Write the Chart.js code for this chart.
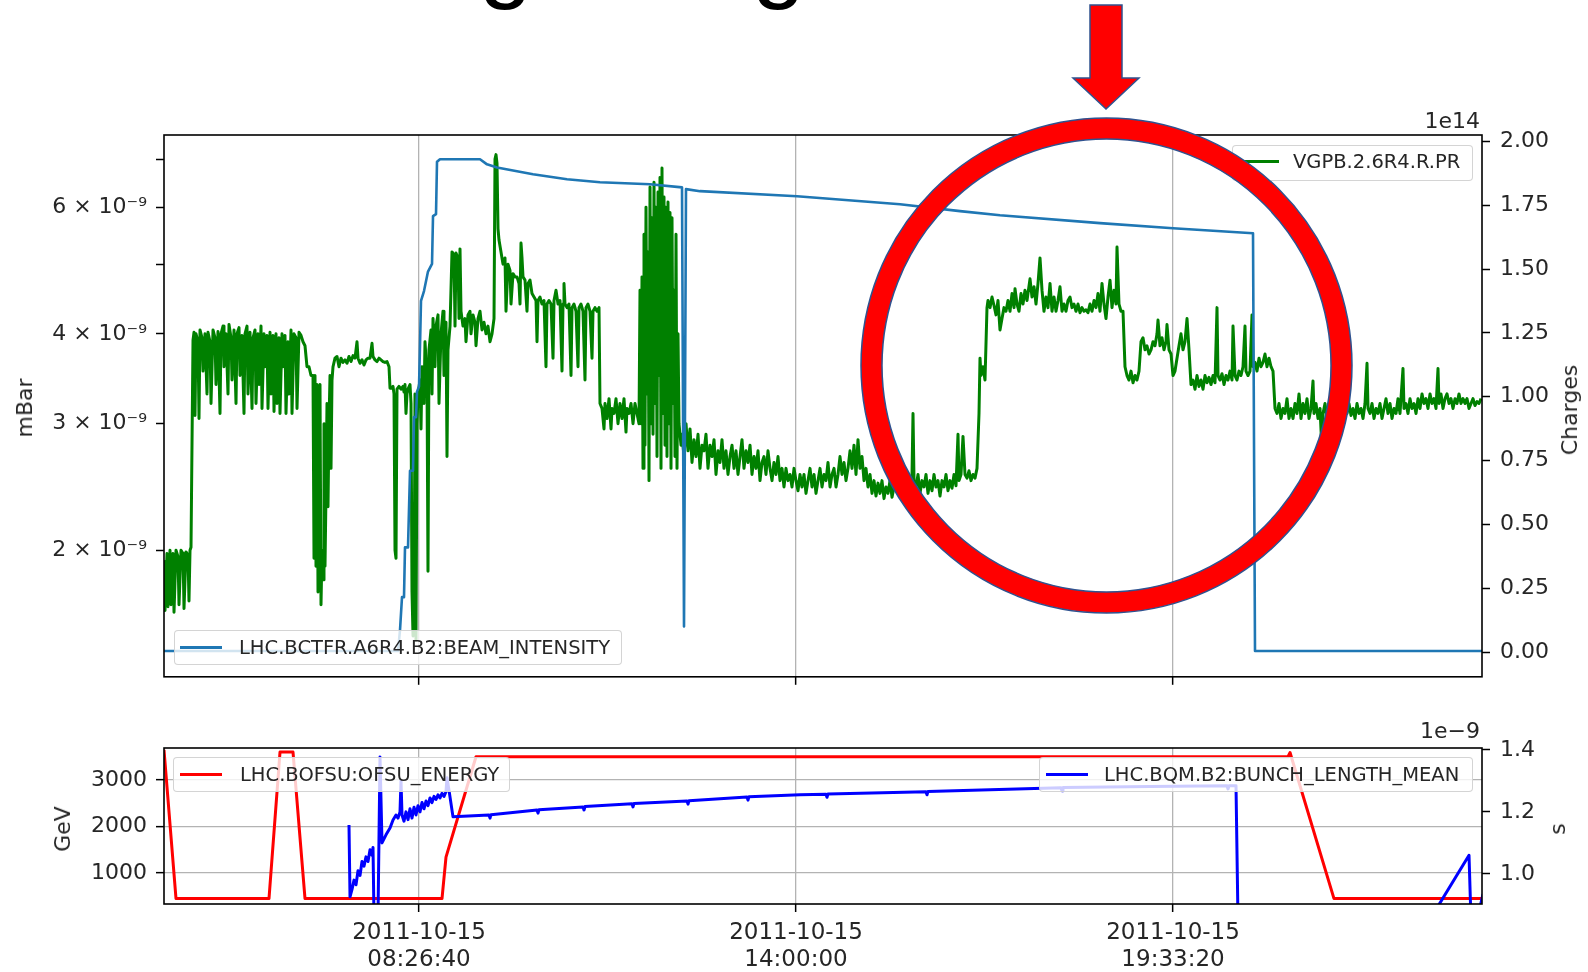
<!DOCTYPE html>
<html><head><meta charset="utf-8">
<script src="https://cdn.jsdelivr.net/npm/chart.js@4.4.1/dist/chart.umd.min.js"></script>
<style>
html,body{margin:0;padding:0;background:#fff;}
body{width:1588px;height:972px;overflow:hidden;position:relative;font-family:'DejaVu Sans',sans-serif;}
canvas{position:absolute;left:0;z-index:0;}
.lbl{position:absolute;color:#262626;font-size:22px;line-height:1;white-space:nowrap;z-index:1;}
.rot{transform:translate(-50%,-50%) rotate(-90deg);}
.leg{position:absolute;background:rgba(255,255,255,0.8);border:1px solid rgba(204,204,204,0.85);border-radius:4px;box-sizing:border-box;z-index:1;}
.ln{position:absolute;height:3px;z-index:2;}
.tx{position:absolute;font-size:19.5px;line-height:1;color:#262626;white-space:nowrap;z-index:2;}
.big{position:absolute;font-family:'Liberation Sans',sans-serif;font-size:96px;line-height:96px;color:#000;z-index:1;}
</style></head><body>
<script>
// ---------- DATA ----------
// time axis: seconds since 2011-10-15 00:00:00
const xMin = 16872, xMax = 86792;
const xTickValues = [30400, 50400, 70400];
const xTickLabels = [['2011-10-15','08:26:40'], ['2011-10-15','14:00:00'], ['2011-10-15','19:33:20']];

// VGPB.2.6R4.R.PR pressure (units of 1e-9 mBar)
const greenTime = [
16872,16925,17031,17084,17191,17244,17350,17403,17509,17615,17668,17774,17880,17933,18039,18145,18198,18252,18305,18411,
18464,18517,18570,18676,18729,18782,18888,18941,19047,19153,
19206,19313,19366,19472,19578,19631,19737,19843,19896,20002,
20055,20161,20267,20320,20427,20480,20586,20692,20745,20851,
20904,21010,21116,21169,21275,21328,21435,21541,21594,21700,
21753,21859,21912,22018,22071,22177,22230,22336,22389,22496,
22549,22655,22708,22814,22867,22973,23026,23132,23185,23291,
23344,23450,23503,23610,23663,23769,23875,23928,24034,24140,
24246,24352,24458,24564,24671,24777,
24830,24883,24936,24989,25042,25095,25148,25201,25254,25307,25360,25413,25466,25519,25572,25625,25679,25732,25785,25838,25944,
26050,26156,26262,26368,26474,26580,26686,26793,26899,27005,27111,27164,27270,27376,27482,27588,27694,27801,27907,27960,28066,28172,28278,28384,28490,28596,28702,28809,28862,
28915,29021,29074,29127,29180,29233,29339,29445,29551,29604,
29657,29710,29763,29816,29923,29976,30029,30082,30135,30188,
30241,30294,30347,30453,30506,30559,30665,30718,30824,30877,
30930,31037,31090,31143,31249,31302,31408,31461,31567,31673,
31726,31832,31885,31938,32045,
32151,32257,32310,32363,32469,32522,32575,32628,32734,32840,
32893,32999,33106,33159,33265,33371,33424,33530,33636,33742,
33848,33954,34060,34167,34273,34379,
34432,34485,34538,34591,34644,34750,34856,34962,35015,35121,
35228,35281,35387,35493,35599,35705,35758,35811,35864,35917,
36023,36129,36182,36289,36395,36501,36607,36660,36713,36819,
36925,37031,37137,37190,37296,37403,37509,37562,37668,37774,
37880,37986,38039,38092,38145,38251,38357,38464,38517,38623,
38729,38835,38888,38994,39100,39206,39259,39365,39472,39578,
39631,39737,39843,39949,
40002,40108,40214,40267,40373,40480,40586,40639,40745,40851,
40957,41063,41169,41275,41381,41434,41541,41647,41753,41859,
41965,42071,
42124,42177,42230,42283,42336,42389,42442,42495,42548,42602,
42655,42708,42761,42814,42867,42920,42973,43026,43079,43132,
43185,43238,43291,43344,43397,43450,43503,43556,43609,43663,
43716,43769,43822,43875,43928,43981,44034,44087,44140,44193,
44299,
44352,44458,44564,44671,44777,44883,44989,45095,45201,45307,
45413,45519,45625,45731,45838,45944,46050,46156,46262,46368,
46474,46580,46686,46792,46899,47005,47111,47217,47323,47429,
47535,47641,47747,47853,47960,48066,48172,48278,48384,48490,
48596,48702,48808,48914,49021,49127,49233,49339,49445,49551,
49657,49763,49869,49975,50082,50188,50294,50400,50506,50612,
50718,50824,50930,51036,51143,51249,51355,51461,51567,51673,
51779,51885,51991,52097,52204,52310,52416,52522,52628,52734,
52840,52946,53052,53158,53265,53371,53477,53583,53689,53795,
53901,54007,54113,54219,54326,54432,54538,54644,54750,54856,
54962,55068,55174,55280,55387,55493,55599,55705,55811,55917,
56023,56129,56235,56341,56448,56554,
56607,56660,56766,56872,56978,57084,57190,57296,57402,57509,
57615,57721,57827,57933,58039,58145,58251,58357,58463,58570,
58676,58782,58888,58994,59047,59153,59259,59365,59471,59577,
59684,59790,59896,60002,60108,60161,60214,60320,60426,60532,
60585,60692,60798,60904,61010,61116,61222,61328,61434,61540,
61646,61753,61859,61965,62018,62124,62230,62336,62442,62548,
62654,62814,62920,63026,63132,63238,63344,63450,63556,63662,
63768,63875,63981,64087,64193,64299,64405,64511,64617,64723,
64829,64936,65042,65148,65254,65360,65466,65572,65678,65784,
65890,65997,66103,66209,66315,66421,66527,66633,66739,66845,
66951,67058,67164,67270,67376,67429,67535,67641,67747,67853,
67959,68065,68172,68278,68384,68490,68596,68702,68808,68914,
69020,69126,69233,69339,69445,69551,69604,69710,69816,69922,
70028,70081,70188,70294,70400,70506,70612,70718,70824,70930,
71036,71143,71249,71355,
71461,71567,71673,71779,71885,71991,72098,72204,72310,72416,
72522,72628,72734,72787,72893,72999,73105,73211,73317,73424,
73530,73583,73689,73795,73901,74007,74113,74219,74272,74378,
74485,74591,74644,74750,74856,74962,75068,75174,75280,75386,
75492,75599,75705,75811,
75917,76023,76129,76235,76341,76447,76554,76660,76766,76872,
76978,77084,77190,77296,77402,77508,77615,77721,77827,77880,
77986,78092,78198,78304,78357,78463,78570,78676,78782,78888,
78994,79100,79206,79312,79418,79525,79631,79737,79843,79949,
80055,80161,80267,80373,80479,80586,80692,80745,80851,80957,
81063,81169,81275,81381,81487,81593,81699,81805,81912,82018,
82124,82230,82336,82442,82601,82654,82760,82866,82973,83079,
83185,83291,83397,83503,83609,83715,83821,83927,84034,84140,
84246,84352,84458,84511,84617,84723,84829,84935,85042,85148,
85254,85360,85466,85572,85678,85784,85890,85996,86103,86209,
86315,86421,86527,86633,86739
];
const pressureE9 = [
1.93,1.65,1.98,1.67,2.0,1.68,1.98,1.64,2.0,1.96,1.68,2.0,1.98,1.66,1.99,1.97,1.70,2.0,2.02,3.92,
4.02,3.08,4.0,3.9,3.05,4.05,3.95,3.55,4.0,3.3,
4.02,3.9,3.2,4.05,3.95,3.4,4.03,3.1,4.0,4.1,
3.6,4.0,3.3,4.12,3.95,3.45,4.05,3.2,4.0,4.08,
3.5,3.98,3.1,4.0,4.1,3.3,4.02,3.15,3.95,4.05,
3.2,4.0,3.4,4.1,3.15,4.0,3.6,3.98,3.15,4.02,
3.3,3.98,3.12,4.0,3.2,3.95,3.1,4.0,3.6,3.98,
3.1,3.9,3.3,4.05,3.1,4.0,3.95,3.15,4.02,3.98,
3.9,3.85,3.6,3.6,3.5,3.5,
1.95,3.5,1.9,3.4,1.75,2.1,3.4,1.68,2.0,1.82,3.0,1.9,2.4,3.2,2.3,3.0,3.5,2.6,3.45,3.6,3.7,
3.72,3.6,3.7,3.65,3.68,3.64,3.72,3.66,3.73,3.7,3.9,3.7,3.64,3.68,3.62,3.68,3.7,3.7,3.88,3.72,3.68,3.66,3.7,3.68,3.66,3.65,3.66,3.6,3.36,
3.36,3.38,3.3,2.0,1.95,3.35,3.38,3.35,3.38,3.32,
3.4,3.1,3.3,3.35,3.4,3.2,1.75,1.52,1.55,3.3,
1.5,3.0,3.3,3.45,2.95,3.6,3.2,3.9,3.5,1.87,
3.8,4.05,3.3,4.2,3.6,4.1,4.25,3.2,4.0,4.3,
3.5,4.15,2.7,3.8,4.1,
5.2,5.15,4.1,5.18,5.1,4.2,5.25,4.3,4.1,4.2,
3.9,4.25,4.3,4.0,4.25,4.15,3.85,4.2,4.3,4.05,
4.15,4.0,4.1,3.9,4.0,4.2,
7.0,7.1,6.9,5.6,5.4,5.2,5.0,5.1,4.3,5.0,
4.9,4.4,4.85,4.8,4.8,4.7,4.4,5.35,5.1,4.8,
4.75,4.3,4.7,4.75,4.55,4.5,4.45,3.9,4.45,4.5,
4.4,4.45,3.6,4.4,4.45,4.4,3.7,4.45,4.6,4.4,
4.45,3.55,4.4,4.7,4.4,4.35,4.4,3.5,4.35,4.4,
4.3,3.6,4.35,4.4,4.3,3.45,4.35,4.4,4.3,3.7,
4.3,4.35,4.3,4.35,
3.2,3.15,2.95,3.2,3.05,3.25,2.95,3.15,3.1,3.25,
3.0,3.2,3.05,3.25,2.92,3.15,3.1,3.2,3.0,3.2,
3.1,3.0,
4.6,3.0,4.8,2.6,5.5,2.8,6.0,3.3,5.2,2.5,
6.4,3.0,5.8,2.9,6.5,3.2,6.0,2.7,6.3,3.5,
6.6,2.6,6.8,3.1,6.2,2.8,6.0,2.7,6.1,3.0,
5.9,2.6,5.8,3.2,4.6,2.7,5.5,2.6,4.0,3.0,
2.8,
2.9,2.7,3.0,2.75,2.95,2.65,2.85,2.7,2.9,2.6,
2.8,2.75,2.9,2.6,2.8,2.7,2.85,2.55,2.75,2.65,
2.85,2.6,2.75,2.55,2.7,2.8,2.6,2.75,2.55,2.7,
2.85,2.6,2.75,2.65,2.8,2.55,2.7,2.6,2.75,2.5,
2.65,2.7,2.55,2.75,2.6,2.5,2.65,2.55,2.7,2.5,
2.6,2.45,2.6,2.5,2.55,2.45,2.6,2.5,2.42,2.55,
2.45,2.55,2.4,2.5,2.6,2.45,2.55,2.4,2.5,2.6,
2.45,2.55,2.5,2.65,2.45,2.55,2.6,2.45,2.55,2.7,
2.55,2.65,2.5,2.6,2.75,2.6,2.8,2.55,2.85,2.6,
2.7,2.5,2.6,2.45,2.55,2.4,2.5,2.38,2.48,2.4,
2.5,2.36,2.45,2.4,2.5,2.37,2.45,2.5,2.4,2.55,
2.45,2.5,2.4,2.5,2.45,2.55,
3.1,2.5,2.45,2.55,2.4,2.5,2.45,2.55,2.4,2.5,
2.42,2.55,2.45,2.5,2.38,2.5,2.45,2.55,2.42,2.5,
2.44,2.55,2.46,2.9,2.5,2.55,2.88,2.55,2.52,2.58,
2.5,2.55,2.52,2.6,3.1,3.7,3.5,3.6,3.45,4.35,
4.45,4.35,4.5,4.38,4.25,4.45,4.05,4.2,4.35,4.3,
4.45,4.3,4.55,4.35,4.62,4.4,4.3,4.55,4.4,4.6,
4.45,4.77,4.5,4.65,4.4,4.7,5.1,4.6,4.3,4.5,
4.35,4.7,4.3,4.5,4.3,4.45,4.65,4.3,4.4,4.3,
4.45,4.5,4.35,4.4,4.3,4.4,4.28,4.35,4.3,4.32,
4.28,4.4,4.3,4.45,4.35,4.55,4.3,4.7,4.4,4.2,
4.5,4.75,4.35,4.6,4.4,5.28,4.4,4.3,4.3,3.6,
3.5,3.45,3.55,3.42,3.5,3.45,3.55,3.9,3.95,3.8,
3.85,3.75,3.8,3.9,3.85,4.0,4.18,3.85,3.95,3.8,
3.9,4.12,3.8,3.75,3.5,3.55,3.7,3.85,4.0,3.8,
3.9,4.2,3.8,3.4,
3.45,3.35,3.5,3.38,3.45,3.35,3.5,3.42,3.48,3.4,
3.5,3.42,4.35,3.5,3.45,3.52,3.4,3.5,3.45,3.55,
3.45,4.1,3.5,3.45,3.55,3.5,3.6,4.1,3.55,3.5,
3.55,4.25,3.6,3.65,3.55,3.7,3.6,3.65,3.75,3.6,
3.7,3.6,3.55,3.15,
3.1,3.2,3.05,3.15,3.1,3.25,3.05,3.15,3.05,3.2,
3.1,3.3,3.05,3.2,3.1,3.25,3.05,3.15,3.44,3.1,
3.2,3.05,3.15,2.75,3.1,3.2,3.05,3.15,3.1,3.25,
3.05,3.15,3.1,3.2,3.05,3.15,3.1,3.2,3.08,3.15,
3.05,3.2,3.1,3.15,3.05,3.2,3.64,3.15,3.1,3.2,
3.05,3.15,3.1,3.2,3.05,3.15,3.25,3.1,3.2,3.05,
3.15,3.1,3.25,3.1,3.58,3.15,3.2,3.1,3.25,3.15,
3.2,3.1,3.25,3.15,3.3,3.2,3.25,3.15,3.3,3.2,
3.25,3.15,3.58,3.2,3.3,3.15,3.25,3.3,3.2,3.25,
3.15,3.25,3.2,3.3,3.2,3.25,3.2,3.25,3.15,3.2,
3.25,3.18,3.22,3.2,3.25
];

// LHC.BCTFR.A6R4.B2:BEAM_INTENSITY (units of 1e14 charges)
const intensityTime = [16872,29286,29392,29498,29604,29657,29816,29923,30082,30135,30241,30294,30400,30453,30506,30665,30877,31090,31143,31302,31355,31514,33636,34007,34538,36448,38251,40002,42655,44352,44458,44564,45307,50453,55917,59100,61222,66527,70400,74644,74750,86792];
const intensityE14 = [0.004,0.004,0.086,0.215,0.215,0.41,0.41,0.71,0.71,0.92,0.92,1.02,1.04,1.2,1.375,1.414,1.49,1.52,1.707,1.715,1.92,1.93,1.93,1.91,1.898,1.871,1.852,1.84,1.832,1.82,0.10,1.813,1.805,1.785,1.754,1.727,1.711,1.68,1.66,1.64,0.004,0.004];

// LHC.BOFSU:OFSU_ENERGY (GeV)
const energyTime = [16872,17509,22442,23026,23716,24352,31620,31832,33424,76501,76607,78940,86792];
const energyGeV = [3650,450,450,3600,3600,450,450,1340,3500,3500,3590,450,450];

// LHC.BQM.B2:BUNCH_LENGTH_MEAN (units of 1e-9 s)
const bunchTime = [26686,26740,26846,26952,27058,27164,27270,27376,27482,27588,
27694,27801,27907,27960,28013,28225,28331,28437,28649,28862,
29021,29180,29286,29392,29445,29498,29604,29710,29816,29923,
30029,30135,30241,30347,30453,30559,30665,30771,30877,30984,
31090,31196,31302,31408,31514,31620,31726,31832,31885,31991,
32204,34113,34167,34220,36660,36713,36766,39100,39153,39206,
41700,41753,41806,44618,44671,44724,47800,47853,47906,50612,
51991,52044,52097,57296,57349,57402,64458,64511,64564,69180,
73265,73318,73371,73742,73848,84299,86103,86209,86527,86845];
const bunchNs = [1.158,0.926,0.95,0.98,0.965,1.01,0.995,1.04,1.025,1.055,
1.04,1.078,1.06,1.085,0.86,0.86,1.377,1.10,1.126,1.148,
1.174,1.19,1.18,1.20,1.30,1.19,1.17,1.20,1.175,1.21,
1.18,1.215,1.19,1.22,1.2,1.23,1.21,1.235,1.22,1.245,
1.23,1.25,1.24,1.255,1.245,1.26,1.25,1.265,1.31,1.27,
1.184,1.19,1.18,1.191,1.206,1.196,1.207,1.216,1.206,1.217,
1.226,1.216,1.227,1.235,1.225,1.236,1.248,1.238,1.249,1.255,
1.257,1.247,1.258,1.265,1.255,1.266,1.278,1.268,1.279,1.282,
1.284,1.274,1.284,1.284,0.85,0.88,1.06,0.85,0.85,0.935];

// tick values & labels
const pressureTicks = [2e-9,3e-9,4e-9,5e-9,6e-9,7e-9];
const pressureTickLabels = ['2 × 10⁻⁹','3 × 10⁻⁹','4 × 10⁻⁹','','6 × 10⁻⁹',''];
const intensityTicks = [0,0.25e14,0.5e14,0.75e14,1e14,1.25e14,1.5e14,1.75e14,2e14];
const intensityTickLabels = ['0.00','0.25','0.50','0.75','1.00','1.25','1.50','1.75','2.00'];
const energyTicks = [1000,2000,3000];
const energyTickLabels = ['1000','2000','3000'];
const bunchTicks = [1.0e-9,1.2e-9,1.4e-9];
const bunchTickLabels = ['1.0','1.2','1.4'];
</script>

<div class="big" style="left:479px;top:-91px;">g</div>
<div class="big" style="left:752px;top:-91px;">g</div>

<canvas id="cTop" width="1588" height="700" style="top:0;width:1588px;height:700px;"></canvas>
<canvas id="cBot" width="1588" height="272" style="top:700px;width:1588px;height:272px;"></canvas>

<div class="lbl rot" style="left:25px;top:408px;">mBar</div>
<div class="lbl rot" style="left:1570px;top:410px;">Charges</div>
<div class="lbl rot" style="left:63px;top:829px;">GeV</div>
<div class="lbl rot" style="left:1558px;top:829px;">s</div>
<div class="lbl" style="right:108px;top:110px;">1e14</div>
<div class="lbl" style="right:108px;top:720px;">1e−9</div>

<div class="leg" style="left:174px;top:630px;width:448px;height:35px;"></div>
<div class="ln" style="left:180px;top:646px;width:42px;background:#1f77b4;"></div>
<div class="tx" style="left:239px;top:638px;">LHC.BCTFR.A6R4.B2:BEAM_INTENSITY</div>

<div class="leg" style="left:1232px;top:145px;width:241px;height:36px;"></div>
<div class="ln" style="left:1242px;top:160px;width:37px;background:#008000;"></div>
<div class="tx" style="left:1293px;top:152px;">VGPB.2.6R4.R.PR</div>

<div class="leg" style="left:173px;top:757px;width:337px;height:35px;"></div>
<div class="ln" style="left:180px;top:773px;width:42px;background:#ff0000;"></div>
<div class="tx" style="left:240px;top:765px;">LHC.BOFSU:OFSU_ENERGY</div>

<div class="leg" style="left:1039px;top:757px;width:434px;height:35px;"></div>
<div class="ln" style="left:1046px;top:773px;width:42px;background:#0000ff;"></div>
<div class="tx" style="left:1104px;top:765px;">LHC.BQM.B2:BUNCH_LENGTH_MEAN</div>

<svg width="1588" height="972" style="position:absolute;left:0;top:0;z-index:5;" xmlns="http://www.w3.org/2000/svg">
  <ellipse cx="1106.5" cy="365.5" rx="235" ry="237" fill="none" stroke="#ff0000" stroke-width="21"/>
  <ellipse cx="1106.5" cy="365.5" rx="245.5" ry="247.5" fill="none" stroke="#2f528f" stroke-width="1.5"/>
  <ellipse cx="1106.5" cy="365.5" rx="224.5" ry="226.5" fill="none" stroke="#2f528f" stroke-width="1.5"/>
  <polygon points="1090,5 1122,5 1122,78 1139,78 1106,109 1073,78 1090,78" fill="#ff0000" stroke="#2f528f" stroke-width="1.5"/>
</svg>

<script>
Chart.defaults.font.family = "'DejaVu Sans', sans-serif";
Chart.defaults.color = '#262626';

const toPts = (t, v, k) => t.map((x, i) => ({x: x, y: v[i] * k}));
const fixedTicks = vals => scale => { scale.ticks = vals.map(v => ({value: v})); };
const framePlugin = {
  id: 'frame',
  afterDraw(chart) {
    const {ctx, chartArea: a} = chart;
    ctx.save();
    ctx.strokeStyle = '#000';
    ctx.lineWidth = 1.6;
    ctx.strokeRect(a.left, a.top, a.right - a.left, a.bottom - a.top);
    ctx.restore();
  }
};
const tickGrid = {drawOnChartArea: false, tickColor: '#000', tickLength: 8, tickWidth: 1.5};
const xGrid = {color: '#b3b3b3', lineWidth: 1.3, tickColor: '#000', tickLength: 8, tickWidth: 1.5};
const lineDs = {pointRadius: 0, tension: 0, borderJoinStyle: 'round', fill: false};
const common = {
  responsive: false, animation: false, devicePixelRatio: 1,
  parsing: false, normalized: true, events: [],
  plugins: {legend: {display: false}, tooltip: {enabled: false}, title: {display: false}}
};

new Chart(document.getElementById('cTop'), {
  type: 'line',
  data: {datasets: [
    Object.assign({label: 'LHC.BCTFR.A6R4.B2:BEAM_INTENSITY', data: toPts(intensityTime, intensityE14, 1e14),
      yAxisID: 'yI', borderColor: '#1f77b4', borderWidth: 2.6}, lineDs),
    Object.assign({label: 'VGPB.2.6R4.R.PR', data: toPts(greenTime, pressureE9, 1e-9),
      yAxisID: 'yP', borderColor: '#008000', borderWidth: 3}, lineDs)
  ]},
  options: Object.assign({}, common, {
    layout: {autoPadding: false, padding: {top: 135, left: 0, right: 0, bottom: 0}},
    scales: {
      x: {type: 'linear', position: 'bottom', min: xMin, max: xMax,
        afterBuildTicks: fixedTicks(xTickValues), ticks: {display: false},
        grid: xGrid, border: {display: false}, afterFit: s => { s.height = 23; }},
      yP: {type: 'logarithmic', position: 'left', min: 1.334e-9, max: 7.56e-9,
        afterBuildTicks: fixedTicks(pressureTicks),
        ticks: {autoSkip: false, font: {size: 22}, padding: 9, callback: (v, i) => pressureTickLabels[i]},
        grid: tickGrid, border: {display: false}, afterFit: s => { s.width = 164; }},
      yI: {type: 'linear', position: 'right', min: -0.097e14, max: 2.025e14,
        afterBuildTicks: fixedTicks(intensityTicks),
        ticks: {autoSkip: false, font: {size: 22}, padding: 10, callback: (v, i) => intensityTickLabels[i]},
        grid: tickGrid, border: {display: false}, afterFit: s => { s.width = 106; }}
    }
  }),
  plugins: [framePlugin]
});

new Chart(document.getElementById('cBot'), {
  type: 'line',
  data: {datasets: [
    Object.assign({label: 'LHC.BQM.B2:BUNCH_LENGTH_MEAN', data: toPts(bunchTime, bunchNs, 1e-9),
      yAxisID: 'yS', borderColor: '#0000ff', borderWidth: 3}, lineDs),
    Object.assign({label: 'LHC.BOFSU:OFSU_ENERGY', data: toPts(energyTime, energyGeV, 1),
      yAxisID: 'yE', borderColor: '#ff0000', borderWidth: 3}, lineDs)
  ]},
  options: Object.assign({}, common, {
    layout: {autoPadding: false, padding: {top: 48, left: 0, right: 0, bottom: 0}},
    scales: {
      x: {type: 'linear', position: 'bottom', min: xMin, max: xMax,
        afterBuildTicks: fixedTicks(xTickValues),
        ticks: {autoSkip: false, maxRotation: 0, font: {size: 23, lineHeight: 1.2}, padding: 7,
          callback: (v, i) => xTickLabels[i]},
        grid: xGrid, border: {display: false}, afterFit: s => { s.height = 68; }},
      yE: {type: 'linear', position: 'left', min: 333, max: 3688,
        afterBuildTicks: fixedTicks(energyTicks),
        ticks: {autoSkip: false, font: {size: 22}, padding: 9, callback: (v, i) => energyTickLabels[i]},
        grid: xGrid, border: {display: false}, afterFit: s => { s.width = 164; }},
      yS: {type: 'linear', position: 'right', min: 0.903e-9, max: 1.406e-9,
        afterBuildTicks: fixedTicks(bunchTicks),
        ticks: {autoSkip: false, font: {size: 22}, padding: 10, callback: (v, i) => bunchTickLabels[i]},
        grid: tickGrid, border: {display: false}, afterFit: s => { s.width = 106; }}
    }
  }),
  plugins: [framePlugin]
});
</script>
</body></html>
